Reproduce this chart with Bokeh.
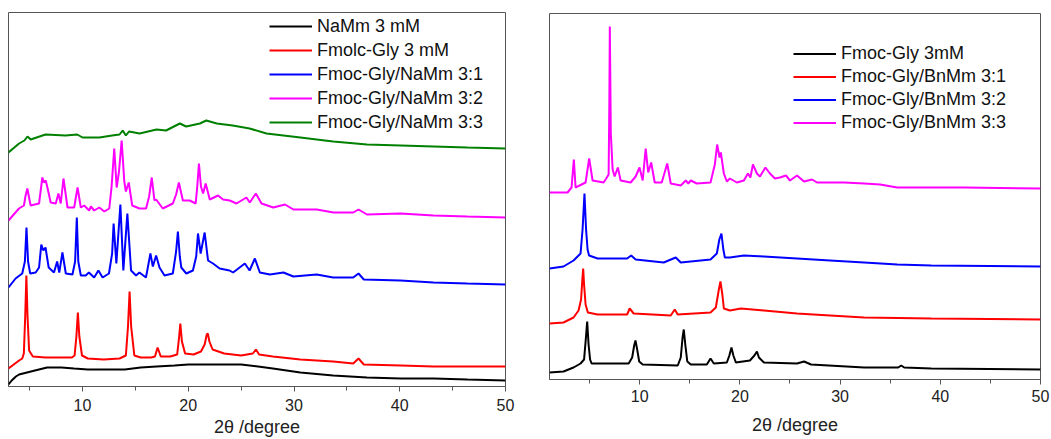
from bokeh.plotting import figure
from bokeh.models import Range1d, FixedTicker, Legend, LegendItem
from bokeh.layouts import row
from bokeh.embed import file_html
from bokeh.resources import INLINE

# ---------------- Left panel data (2theta in degree, intensity a.u. incl. offset) ----------------
L_names = ["NaMm 3 mM", "Fmolc-Gly 3 mM", "Fmoc-Gly/NaMm 3:1", "Fmoc-Gly/NaMm 3:2", "Fmoc-Gly/NaMm 3:3"]
L_colors = ["#000000", "#ff0000", "#0000ff", "#ff00ff", "#008000"]

L_black_x = [3.0, 3.3, 3.7, 4.0, 4.75, 5.5, 6.65, 8.0, 9.2, 10.5, 12.3, 14.0, 15.5, 17.0, 18.7, 20.0,
             21.8, 23.5, 25.0, 26.6, 28.0, 30.6, 33.7, 36.9, 40.1, 43.2, 46.4, 50.0]
L_black_y = [2, 6, 10, 12, 14, 16, 19, 19, 18, 17, 17, 17, 19, 20, 21, 22,
             22, 22, 22, 20, 18, 14, 11, 9, 8, 8, 7, 6]

L_red_x = [3.0, 3.5, 4.0, 4.3, 4.45, 4.58, 4.69, 4.8, 4.95, 5.3, 6.5, 8.0, 9.0, 9.25, 9.42, 9.56,
           9.7, 9.95, 10.5, 12.0, 13.5, 14.1, 14.3, 14.45, 14.6, 14.9, 15.5, 16.5, 16.85, 17.1,
           17.4, 18.3, 18.95, 19.12, 19.25, 19.4, 19.7, 20.5, 21.2, 21.55, 21.75, 21.85, 22.0,
           22.3, 23.4, 25.0, 26.1, 26.4, 26.7, 28.0, 30.6, 33.7, 35.6, 36.1, 36.6, 40.1, 43.2,
           46.4, 50.0]
L_red_y = [18, 22, 26, 28, 33, 70, 111, 70, 36, 30, 29, 29, 29, 31, 50, 74,
           50, 31, 28, 27, 28, 31, 60, 95, 60, 31, 29, 29, 30, 39,
           30, 30, 32, 48, 63, 45, 33, 32, 35, 42, 52, 53, 45,
           37, 33, 31, 33, 37, 32, 30, 27, 25, 23, 28, 22, 21, 20,
           20, 20]

L_blue_x = [3.0, 3.67, 4.3, 4.55, 4.7, 4.85, 5.05, 5.57, 5.89, 6.1, 6.3, 6.5, 6.8, 7.3, 7.6, 7.8,
            8.1, 8.42, 9.05, 9.3, 9.46, 9.6, 9.84, 10.3, 10.6, 11.1, 11.5, 11.9, 12.5, 12.8,
            12.94, 13.2, 13.58, 13.86, 14.24, 14.59, 15.06, 15.38, 16.0, 16.42, 16.65, 16.96,
            17.28, 17.75, 18.54, 18.85, 19.02, 19.2, 19.34, 19.81, 20.44, 20.75, 20.92, 21.17,
            21.55, 21.87, 22.34, 22.97, 23.9, 24.24, 25.35, 25.8, 26.3, 26.77, 27.72, 29.0,
            29.94, 32.15, 33.7, 35.6, 36.1, 36.6, 40.06, 43.2, 46.4, 50.0]
L_blue_y = [99, 108, 113, 125, 159, 125, 113, 114, 119, 142, 136, 139, 119, 114, 125, 114,
            134, 113, 112, 125, 169, 125, 111, 111, 114, 109, 116, 109, 113, 133,
            163, 123, 182, 116, 173, 116, 111, 114, 109, 133, 120, 131,
            119, 111, 113, 135, 155, 130, 119, 113, 116, 130, 153, 133,
            154, 126, 123, 118, 116, 114, 123, 116, 128, 114, 112, 114,
            110, 112, 109, 109, 113, 107, 106, 104, 103, 102]

L_pink_x = [3.0, 3.99, 4.46, 4.6, 4.78, 5.0, 5.09, 5.89, 6.2, 6.35, 6.52, 6.68, 6.99, 7.47, 7.72,
            7.94, 8.2, 8.58, 9.21, 9.53, 9.84, 10.16, 10.63, 10.79, 11.1, 11.58, 12.06, 12.53,
            12.75, 13.0, 13.23, 13.45, 13.7, 13.95, 14.1, 14.37, 14.7, 15.38, 16.01, 16.3, 16.55,
            16.8, 16.96, 17.59, 18.54, 18.85, 19.11, 19.49, 20.13, 20.7, 20.85, 21.01, 21.2,
            21.4, 21.65, 22.03, 22.82, 23.29, 23.92, 24.56, 25.5, 25.82, 26.39, 26.93, 28.04,
            29.15, 29.94, 32.15, 33.73, 35.6, 36.1, 36.9, 40.06, 43.2, 46.4, 50.0]
L_pink_y = [166, 178, 181, 190, 198, 186, 181, 183, 209, 204, 206, 199, 184, 183, 193,
            183, 208, 179, 179, 199, 179, 181, 176, 180, 176, 179, 175, 178,
            200, 238, 199, 215, 246, 205, 195, 204, 181, 178, 178, 190, 209,
            186, 187, 178, 183, 192, 204, 186, 186, 183, 200, 223, 200,
            193, 203, 187, 191, 187, 186, 183, 189, 184, 193, 183, 179,
            182, 177, 177, 174, 174, 177, 172, 173, 171, 170, 169]

L_green_x = [3.0, 4.0, 4.5, 4.8, 5.1, 6.5, 8.4, 9.5, 10.0, 11.6, 12.8, 13.5, 13.8, 14.1, 14.4, 15.4,
             17.0, 17.9, 19.2, 19.8, 21.1, 21.7, 22.7, 24.2, 25.8, 27.4, 29.0, 30.6, 33.7, 36.9,
             40.1, 43.2, 46.4, 50.0]
L_green_y = [234, 243, 246, 250, 247, 252, 251, 252, 249, 249, 251, 252, 256, 251, 255, 253,
             257, 256, 263, 260, 263, 266, 263, 261, 258, 253, 251, 249, 245, 242,
             241, 240, 239, 238]

# ---------------- Right panel data ----------------
R_names = ["Fmoc-Gly 3mM", "Fmoc-Gly/BnMm 3:1", "Fmoc-Gly/BnMm 3:2", "Fmoc-Gly/BnMm 3:3"]
R_colors = ["#000000", "#ff0000", "#0000ff", "#ff00ff"]

R_black_x = [1.0, 2.4, 3.4, 4.1, 4.45, 4.62, 4.76, 4.9, 5.05, 5.2, 7.0, 8.9, 9.25, 9.45, 9.58, 9.75,
             9.95, 10.3, 13.8, 14.1, 14.28, 14.4, 14.55, 14.75, 15.1, 16.7, 17.07, 17.4, 18.7,
             18.95, 19.16, 19.35, 19.6, 21.0, 21.45, 21.7, 21.9, 22.4, 25.7, 26.4, 27.1, 32.4,
             35.8, 36.1, 36.4, 39.1, 50.0]
R_black_y = [7, 8, 12, 16, 20, 40, 58, 35, 20, 16, 16, 16, 22, 34, 39, 30,
             18, 15, 14, 22, 42, 50, 35, 18, 15, 15, 21, 16, 17,
             24, 32, 24, 17, 19, 24, 28, 22, 17, 16, 18, 15, 12,
             12, 14, 12, 11, 10]

R_red_x = [1.0, 2.4, 3.4, 3.9, 4.15, 4.28, 4.36, 4.45, 4.6, 4.83, 5.8, 8.75, 9.0, 9.4, 13.1, 13.5,
           13.8, 17.07, 17.6, 17.9, 18.06, 18.25, 18.4, 19.0, 20.1, 22.4, 25.7, 29.0, 32.4, 39.1,
           50.0]
R_red_y = [56, 57, 62, 69, 80, 100, 111, 95, 75, 67, 65, 65, 71, 66, 64, 70,
           65, 67, 72, 90, 98, 85, 71, 69, 71, 69, 66, 64, 62, 61,
           60]

R_blue_x = [1.0, 2.4, 3.4, 4.1, 4.3, 4.49, 4.65, 4.8, 4.95, 5.8, 8.75, 9.15, 9.6, 12.4, 13.6, 14.1,
            17.07, 17.7, 17.95, 18.16, 18.35, 18.5, 19.0, 20.4, 22.4, 25.7, 29.0, 32.4, 35.7,
            39.1, 50.0]
R_blue_y = [111, 113, 119, 126, 150, 186, 150, 130, 124, 121, 121, 124, 120, 117, 122, 117,
            120, 126, 140, 146, 130, 122, 122, 124, 123, 121, 119, 117, 115,
            114, 113]

R_pink_x = [1.0, 2.8, 3.2, 3.43, 3.6, 4.6, 4.96, 5.3, 6.4, 6.66, 6.9, 6.97, 7.02, 7.07, 7.12, 7.3,
            7.5, 7.82, 8.1, 9.1, 9.6, 9.98, 10.3, 10.6, 10.85, 11.15, 11.5, 12.2, 12.75, 13.1,
            14.1, 14.6, 14.85, 15.1, 15.7, 17.07, 17.5, 17.73, 17.97, 18.1, 18.4, 18.7, 19.0,
            19.7, 20.4, 20.8, 21.05, 21.3, 21.7, 22.0, 22.55, 23.0, 23.5, 24.0, 24.6, 25.0,
            25.7, 26.4, 27.2, 27.7, 29.0, 30.4, 32.4, 34.0, 35.7, 39.1, 42.4, 50.0]
R_pink_y = [187, 187, 192, 220, 192, 197, 221, 199, 197, 201, 205, 274, 353, 300, 246, 210,
            203, 212, 199, 197, 203, 212, 199, 231, 207, 217, 197, 197, 216, 196,
            194, 199, 196, 199, 196, 197, 215, 235, 222, 227, 206, 198, 201,
            197, 199, 206, 202, 215, 206, 203, 212, 206, 201, 202, 204, 199,
            204, 198, 200, 197, 197, 197, 196, 195, 192, 192, 192, 191]

X_TICKS = [10, 20, 30, 40, 50]
X_MINOR = [5, 15, 25, 35, 45]
X_LABEL = "2\u03b8 /degree"

FONT = "Liberation Sans"
AX = "#555555"


def style(p, s1, s2):
    p.outline_line_color = AX
    p.outline_line_width = 1
    p.xgrid.visible = False
    p.ygrid.visible = False
    p.background_fill_color = "white"
    p.border_fill_color = "white"
    ax = p.xaxis[0]
    ax.ticker = FixedTicker(ticks=X_TICKS, minor_ticks=X_MINOR)
    ax.axis_line_color = AX
    ax.major_tick_line_color = AX
    ax.minor_tick_line_color = AX
    ax.major_tick_in = 0
    ax.major_tick_out = 5
    ax.minor_tick_in = 0
    ax.minor_tick_out = 4
    ax.major_label_text_font = FONT
    ax.major_label_text_font_size = "16px"
    ax.major_label_text_line_height = 1.0
    ax.major_label_text_color = "#222222"
    ax.major_label_standoff = s1
    ax.axis_label = X_LABEL
    ax.axis_label_text_font = FONT
    ax.axis_label_text_font_size = "18px"
    ax.axis_label_text_line_height = 1.0
    ax.axis_label_text_font_style = "normal"
    ax.axis_label_text_color = "#222222"
    ax.axis_label_standoff = s2


# ---------------- Left figure ----------------
p1 = figure(width=525, height=439, output_backend="svg", toolbar_location=None,
            x_range=Range1d(3, 50), y_range=Range1d(0, 374), y_axis_location=None,
            min_border_left=8, min_border_right=20, min_border_top=12, min_border_bottom=53,
            frame_align=False)
style(p1, 7, 3)

L_series = [(L_black_x, L_black_y), (L_red_x, L_red_y), (L_blue_x, L_blue_y),
            (L_pink_x, L_pink_y), (L_green_x, L_green_y)]
items = []
for (xs, ys), name, col in zip(L_series, L_names, L_colors):
    r = p1.line(xs, ys, line_color=col, line_width=2)
    items.append(LegendItem(label=name, renderers=[r]))
leg1 = Legend(items=items, location=(261, 253), padding=0, margin=0, spacing=2,
              label_height=22, glyph_height=22, glyph_width=43, label_standoff=5,
              label_text_font=FONT, label_text_font_size="18px", label_text_color="#111111",
              background_fill_alpha=0, border_line_alpha=0)
p1.add_layout(leg1)

# ---------------- Right figure ----------------
p2 = figure(width=526, height=439, output_backend="svg", toolbar_location=None,
            x_range=Range1d(1, 50), y_range=Range1d(0, 366), y_axis_location=None,
            min_border_left=24, min_border_right=11, min_border_top=13, min_border_bottom=60,
            frame_align=False)
style(p2, 5, 10)

R_series = [(R_black_x, R_black_y), (R_red_x, R_red_y), (R_blue_x, R_blue_y), (R_pink_x, R_pink_y)]
items2 = []
for (xs, ys), name, col in zip(R_series, R_names, R_colors):
    r = p2.line(xs, ys, line_color=col, line_width=2)
    items2.append(LegendItem(label=name, renderers=[r]))
leg2 = Legend(items=items2, location=(244, 246), padding=0, margin=0, spacing=2,
              label_height=21, glyph_height=21, glyph_width=43, label_standoff=5,
              label_text_font=FONT, label_text_font_size="18px", label_text_color="#111111",
              background_fill_alpha=0, border_line_alpha=0)
p2.add_layout(leg2)

layout = row(p1, p2)
open("out.html", "w").write(file_html(layout, INLINE))
